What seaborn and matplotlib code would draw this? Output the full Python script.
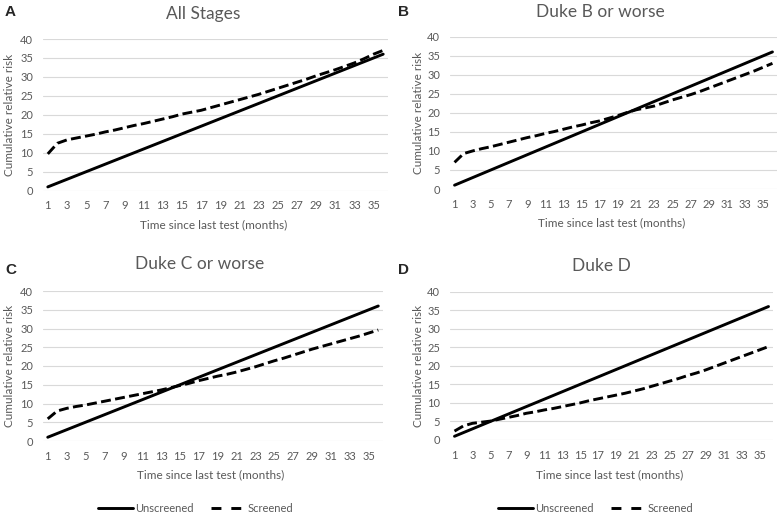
import seaborn as sns
import matplotlib.pyplot as plt
import pandas as pd

# Data (months 1..36)
months = list(range(1, 37))
unscreened = [1, 2, 3, 4, 5, 6, 7, 8, 9, 10, 11, 12, 13, 14, 15, 16, 17, 18,
              19, 20, 21, 22, 23, 24, 25, 26, 27, 28, 29, 30, 31, 32, 33, 34, 35, 36]
screened_all = [9.7, 12.5, 13.4, 13.9, 14.4, 14.9, 15.5, 16.0, 16.6, 17.2, 17.7, 18.3,
                18.9, 19.5, 20.2, 20.7, 21.2, 21.9, 22.6, 23.3, 24.0, 24.7, 25.4, 26.2,
                27.0, 27.8, 28.6, 29.4, 30.3, 31.1, 31.9, 32.8, 33.7, 34.8, 36.0, 37.0]
screened_b = [7.0, 9.3, 10.0, 10.6, 11.1, 11.7, 12.3, 12.9, 13.5, 14.0, 14.6, 15.1,
              15.7, 16.3, 16.8, 17.4, 17.9, 18.6, 19.3, 20.1, 20.8, 21.3, 21.8, 22.6,
              23.4, 24.1, 24.8, 25.6, 26.5, 27.4, 28.3, 29.2, 30.1, 31.0, 32.0, 33.0]
screened_c = [5.9, 8.0, 8.7, 9.2, 9.6, 10.1, 10.6, 11.1, 11.6, 12.1, 12.6, 13.1,
              13.6, 14.2, 14.8, 15.4, 16.1, 16.7, 17.3, 17.8, 18.4, 19.1, 19.8, 20.6,
              21.4, 22.1, 22.9, 23.7, 24.5, 25.2, 25.9, 26.6, 27.3, 28.0, 28.8, 29.6]
screened_d = [2.4, 3.8, 4.5, 4.8, 5.1, 5.6, 6.1, 6.6, 7.2, 7.6, 8.1, 8.5,
              9.0, 9.5, 10.0, 10.6, 11.1, 11.6, 12.1, 12.6, 13.2, 13.8, 14.5, 15.2,
              15.9, 16.6, 17.4, 18.1, 18.9, 19.8, 20.7, 21.6, 22.5, 23.4, 24.3, 25.2]

titles = ["All Stages", "Duke B or worse", "Duke C or worse", "Duke D"]
letters = ["A", "B", "C", "D"]
screened_sets = [screened_all, screened_b, screened_c, screened_d]

sns.set_style("white")
plt.rcParams['font.family'] = ['Lato', 'DejaVu Sans']

W, H = 780, 518
fig = plt.figure(figsize=(7.8, 5.18), dpi=100)

# axes boxes in pixels: left, right, top(y=40), bottom(y=0)
boxes = [(43, 388, 39, 190.7), (450, 777, 36.7, 189),
         (43, 383, 291, 441), (450, 773, 291.7, 440)]
title_pos = [(203, 14), (600, 12), (200, 264), (601, 266)]
letter_pos = [(5, 12), (398, 12), (5, 270), (398, 270)]
ylab_x = [10, 418, 10, 418]
xlab_y = [225, 223, 475, 475]

grey = '#595959'
axes = []
for i in range(4):
    l, r, t, b = boxes[i]
    ax = fig.add_axes([l / W, 1 - b / H, (r - l) / W, (b - t) / H])
    df = pd.DataFrame({
        'month': months * 2,
        'risk': unscreened + screened_sets[i],
        'group': ['Unscreened'] * 36 + ['Screened'] * 36,
    })
    sns.lineplot(data=df, x='month', y='risk', style='group',
                 dashes={'Unscreened': '', 'Screened': (3.4, 1.5)},
                 color='black', linewidth=2.1, ax=ax, legend=False)
    ax.set_xlim(0.5, 36.5)
    ax.set_ylim(0, 40)
    ax.set_yticks(range(0, 41, 5))
    ax.set_xticks(range(1, 37, 2))
    ax.yaxis.grid(True, color='#d9d9d9', linewidth=0.8)
    ax.set_axisbelow(True)
    for s in ax.spines.values():
        s.set_visible(False)
    ax.tick_params(length=0, labelsize=8, labelcolor=grey, pad=7)
    ax.set_xlabel('')
    ax.set_ylabel('')
    axes.append(ax)

    # text placed like the original figure
    tx, ty = title_pos[i]
    fig.text(tx / W, 1 - ty / H, titles[i], ha='center', va='center',
             fontsize=12.5, color=grey)
    lx, ly = letter_pos[i]
    fig.text(lx / W, 1 - ly / H, letters[i], ha='left', va='center',
             fontsize=11, fontweight='bold', family='Liberation Sans')
    fig.text(ylab_x[i] / W, 1 - ((t + b) / 2) / H, 'Cumulative relative risk',
             rotation=90, ha='center', va='center', fontsize=8.5, color=grey)
    fig.text(((l + r) / 2 - 2) / W, 1 - xlab_y[i] / H, 'Time since last test (months)',
             ha='center', va='center', fontsize=8.5, color=grey)

# legends below panels C and D
handles = [plt.Line2D([], [], color='black', lw=2.1),
           plt.Line2D([], [], color='black', lw=2.1, dashes=(3.4, 3.4))]
for cx in [196, 596]:
    fig.legend(handles, ['Unscreened', 'Screened'], loc='center',
               bbox_to_anchor=(cx / W, 1 - 508 / H), ncol=2, frameon=False,
               fontsize=8, labelcolor=grey, handlelength=3.1, handletextpad=0.2,
               columnspacing=1.6)

plt.savefig('out.png', dpi=100)
